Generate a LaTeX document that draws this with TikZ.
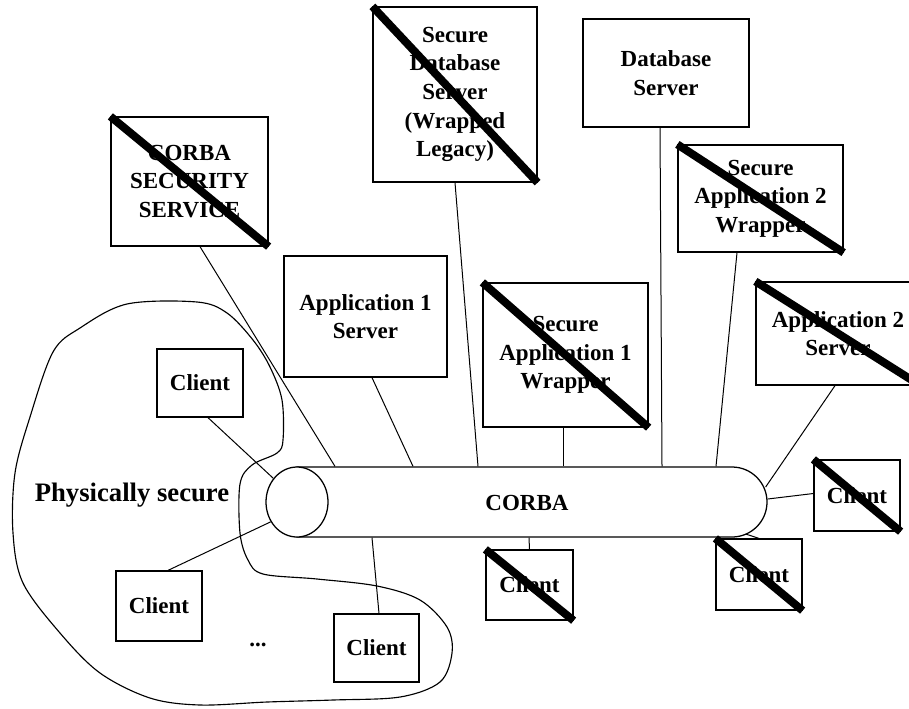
\documentclass[tikz,border=0pt]{standalone}
\usepackage{fontspec}
\setmainfont{Liberation Serif}
\usetikzlibrary{calc,shapes.misc,shapes.geometric}

\tikzset{
  lbl/.style={font=\fontsize{17.25}{21.5}\selectfont\bfseries, align=center},
  box/.style={lbl, draw, line width=0.95pt, inner sep=0pt},
  wire/.style={line width=0.75pt},
  strike/.style={line width=6pt, line cap=butt},
  outline/.style={line width=0.85pt},
}

\begin{document}
\begin{tikzpicture}[x=0.75pt,y=-0.75pt]
\useasboundingbox (0,0) rectangle (909,708);
\clip (0,0) rectangle (909,708);

% physically secure region
\draw[outline] plot[smooth cycle, tension=0.55] coordinates {
  (197,302) (127,304) (80,328) (53,352) (30,417) (15,473) (13,533)
  (23,583) (60,633) (100,673) (150,698) (200,705) (267,702) (333,700)
  (400,697) (440,682) (452,653) (447,627) (420,600) (377,586) (317,579)
  (263,574) (248,560) (240,533) (240,484) (252,465) (277,453) (283,440)
  (282,400) (270,367) (253,340) (227,313)};

\node[lbl, font=\fontsize{20}{24}\selectfont\bfseries] (phys) at (132,495) {Physically secure};
\node[lbl] (dots) at (258,645) {...};

% CORBA bus
\node[draw, line width=0.95pt, rounded rectangle, rounded rectangle left arc=none,
      minimum width=352.5pt, minimum height=52.5pt, inner sep=0pt] (pipe) at (532,502) {};
\node[draw, line width=0.95pt, ellipse, fill=white, minimum width=46.5pt,
      minimum height=52.5pt, inner sep=0pt] (ring) at (297,502) {};
\node[lbl] (corba) at (527,503) {CORBA};

% services and servers
\node[box, minimum width=117.75pt, minimum height=96.75pt] (sec) at (189.5,181.5) {CORBA\\SECURITY\\SERVICE};
\node[box, minimum width=123pt, minimum height=131.25pt] (sdb) at (455,94.5) {Secure\\Database\\Server\\(Wrapped\\Legacy)};
\node[box, minimum width=124.5pt, minimum height=81pt] (dbs) at (666,73) {Database\\Server};
\node[box, minimum width=123.75pt, minimum height=80.25pt] (sa2w) at (760.5,198.5) {Secure\\Application 2\\Wrapper};
\node[box, minimum width=123pt, minimum height=77.25pt] (a2s) at (838,333.5) {Application 2\\Server};
\node[box, minimum width=122.25pt, minimum height=90.75pt] (a1s) at (365.5,316.5) {Application 1\\Server};
\node[box, minimum width=123.75pt, minimum height=108pt] (sa1w) at (565.5,355) {Secure\\Application 1\\Wrapper};

% clients
\node[box, minimum width=64.5pt, minimum height=53.25pt] (cr1) at (857,495.5) {Client};
\node[box, minimum width=64.5pt, minimum height=53.25pt] (cr2) at (759,574.5) {Client};
\node[box, minimum width=65.25pt, minimum height=52.5pt] (cr3) at (529.5,585) {Client};
\node[box, minimum width=64.5pt, minimum height=51pt] (cl1) at (200,383) {Client};
\node[box, minimum width=64.5pt, minimum height=52.5pt] (cl2) at (159,606) {Client};
\node[box, minimum width=63.75pt, minimum height=51pt] (cl3) at (376.5,648) {Client};

% connections to the bus
\draw[wire] ($(sec.south)+(10.5,0)$) -- ($(pipe.north)+(-197,0)$);
\draw[wire] ($(a1s.south)+(6.5,0)$) -- ($(pipe.north)+(-119,0)$);
\draw[wire] (sdb.south) -- ($(pipe.north)+(-54,0)$);
\draw[wire] ($(sa1w.south)+(-2.5,0)$) -- ($(pipe.north)+(31,0)$);
\draw[wire] ($(dbs.south)+(-6,0)$) -- ($(pipe.north)+(130,0)$);
\draw[wire] ($(sa2w.south)+(-23.5,0)$) -- ($(pipe.north)+(184,0)$);
\draw[wire] ($(a2s.south)+(-3,0)$) -- ($(pipe.east)+(-2,-15)$);
\draw[wire] ($(pipe.east)+(0,-3)$) -- ($(cr1.west)+(0,-2)$);
\draw[wire] ($(pipe.east)+(-22,32)$) -- (cr2.north);
\draw[wire] ($(pipe.south)+(-3,0)$) -- (cr3.north);
\draw[wire] ($(pipe.south)+(-160,0)$) -- ($(cl3.north)+(2.5,0)$);
\draw[wire] ($(cl1.south)+(8,0)$) -- (ring.135);
\draw[wire] ($(cl2.north)+(9,0)$) -- (ring.217);

% crossed-out components
\foreach \n in {sec,sdb,sa2w,a2s,sa1w,cr1,cr2,cr3}
  \draw[strike] (\n.north west) -- (\n.south east);
\end{tikzpicture}
\end{document}
